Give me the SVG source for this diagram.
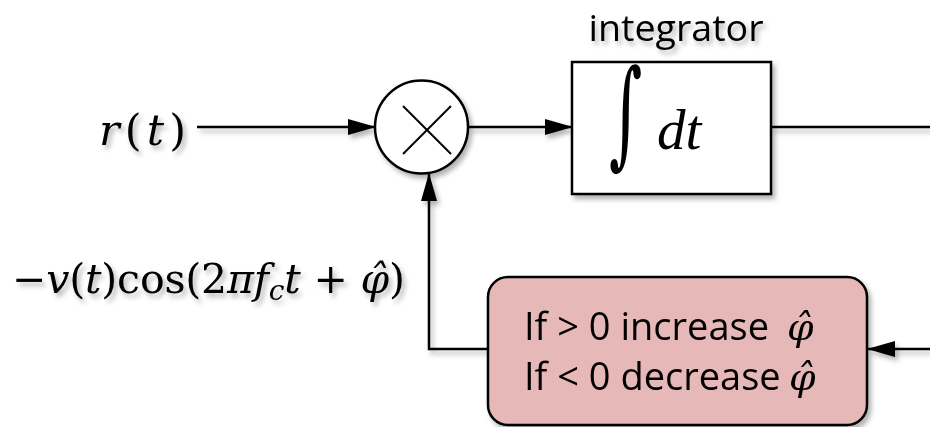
<svg xmlns="http://www.w3.org/2000/svg" width="930" height="427" viewBox="0 0 930 427">
<defs>
<filter id="sh" x="-20%" y="-20%" width="140%" height="140%">
<feDropShadow dx="3" dy="4" stdDeviation="2.5" flood-color="#000" flood-opacity="0.3"/>
</filter>
<marker id="ah" viewBox="0 0 28 16" refX="27" refY="8" markerWidth="28" markerHeight="16" markerUnits="userSpaceOnUse" orient="auto">
<path d="M0,0 L28,8 L0,16 z" fill="#000"/>
</marker>
<style>
.ln{stroke:#000;stroke-width:2.5;fill:none}
.math{font-family:"DejaVu Serif","Liberation Serif",serif;fill:#000}
.it{font-style:italic}
.sans{font-family:"Open Sans","Liberation Sans",sans-serif;fill:#000}
</style>
</defs>
<g id="connectors" filter="url(#sh)">
<line class="ln" x1="197" y1="127" x2="375" y2="127" marker-end="url(#ah)"/>
<line class="ln" x1="468" y1="127" x2="572" y2="127" marker-end="url(#ah)"/>
<line class="ln" x1="771" y1="127" x2="930" y2="127"/>
<line class="ln" x1="930" y1="349" x2="868" y2="349" marker-end="url(#ah)"/>
<polyline class="ln" points="488,349 429,349 429,174" marker-end="url(#ah)"/>
</g>
<g id="rt-label" filter="url(#sh)">
<text class="math" x="99" y="145" font-size="43" textLength="87" lengthAdjust="spacing"><tspan class="it">r</tspan>(<tspan class="it">t</tspan>)</text>
</g>
<g id="multiplier" filter="url(#sh)">
<circle cx="421.5" cy="127" r="46.5" fill="#fff" stroke="#000" stroke-width="2.5"/>
<line class="ln" x1="403" y1="106" x2="451" y2="154" style="stroke-width:2"/>
<line class="ln" x1="451" y1="106" x2="403" y2="154" style="stroke-width:2"/>
</g>
<g id="integrator" filter="url(#sh)">
<text class="sans" x="676" y="41" font-size="36" text-anchor="middle" textLength="175" lengthAdjust="spacingAndGlyphs">integrator</text>
<rect x="572" y="62" width="199" height="132" fill="#fff" stroke="#000" stroke-width="2.5"/>
<text class="math" x="0" y="0" font-size="64" transform="translate(609,153) scale(1,1.83)">∫</text>
<text class="it" x="657" y="149" font-size="57" font-family="Liberation Serif, serif">dt</text>
</g>
<g id="feedback-label" filter="url(#sh)">
<text class="math" x="12" y="293" font-size="41" textLength="393" lengthAdjust="spacing">−<tspan class="it">v</tspan>(<tspan class="it">t</tspan>)cos(2<tspan class="it">πf</tspan><tspan class="it" dy="7" font-size="28">c</tspan><tspan class="it" dy="-7">t</tspan> + <tspan class="it">φ̂</tspan>)</text>
</g>
<g id="decision" filter="url(#sh)">
<rect x="488" y="277" width="379" height="148" rx="20" ry="20" fill="#e6b8b7" stroke="#000" stroke-width="2.5"/>
<text class="sans" x="524" y="340" font-size="38">If &gt; 0 increase</text>
<text class="math it" x="787" y="340" font-size="38">φ̂</text>
<text class="sans" x="524" y="390" font-size="38">If &lt; 0 decrease</text>
<text class="math it" x="789" y="390" font-size="38">φ̂</text>
</g>
</svg>
